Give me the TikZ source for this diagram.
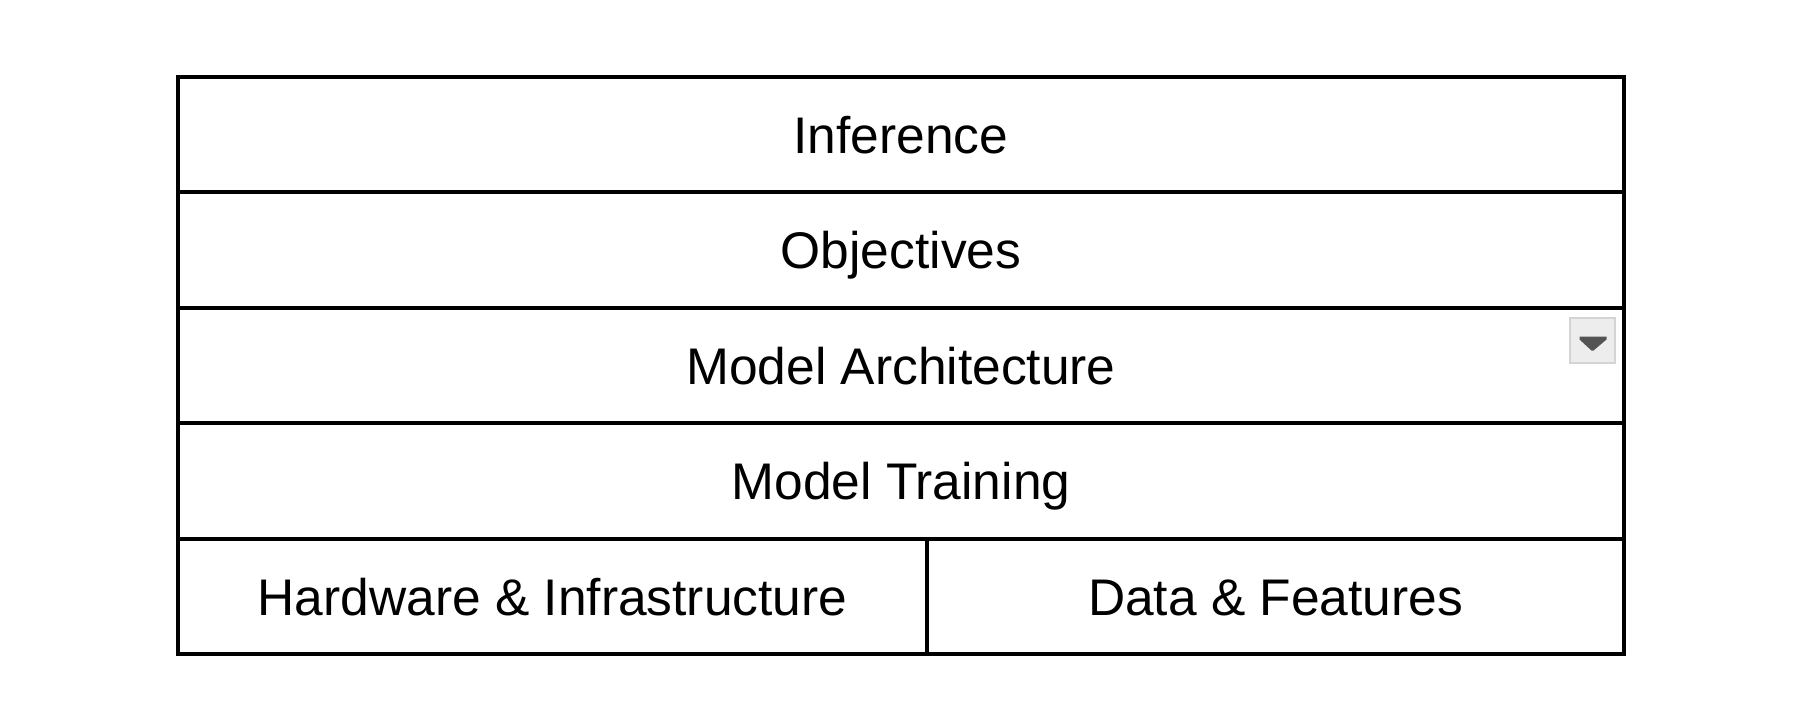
\documentclass[tikz,border=0pt]{standalone}
\usepackage{fontspec}
\setmainfont{Liberation Sans}
\begin{document}
\begin{tikzpicture}[x=1pt, y=-1pt,
  cell/.style={draw=black, line width=4pt, rectangle, inner sep=0pt, outer sep=0pt,
    minimum height=115.5pt, text height=37pt, text depth=0pt,
    font=\fontsize{51.5}{60}\selectfont},
  fullrow/.style={cell, minimum width=1446pt},
  dropbox/.style={draw=black!17, fill=black!7, line width=2.5pt, rectangle,
    minimum width=45pt, minimum height=45pt, inner sep=0pt},
  droptip/.style={fill=black!67, draw=none}]
  \useasboundingbox (0,0) rectangle (1812,710);
  % stack of layers, top to bottom
  \node[fullrow] (inference)    at (901,134.5) {Inference};
  \node[fullrow] (objectives)   at (901,250)   {Objectives};
  \node[fullrow] (architecture) at (901,365.5) {Model Architecture};
  \node[fullrow] (training)     at (901,481)   {Model Training};
  % bottom layer split in two
  \node[cell, minimum width=749pt] (hardware) at (552.5,596.5) {Hardware \& Infrastructure};
  \node[cell, minimum width=697pt] (data)     at (1275.5,596.5) {Data \& Features};
  % small drop-down control in the architecture row
  \node[dropbox] (menu) at (1592.5,340.5) {};
  \fill[droptip] ([xshift=-13pt,yshift=4pt]menu.center) -- ([xshift=14pt,yshift=4pt]menu.center)
    -- ([xshift=14pt,yshift=1pt]menu.center) -- ([xshift=1pt,yshift=-10pt]menu.center)
    -- ([xshift=-1pt,yshift=-10pt]menu.center) -- ([xshift=-13pt,yshift=1pt]menu.center) -- cycle;
\end{tikzpicture}
\end{document}
